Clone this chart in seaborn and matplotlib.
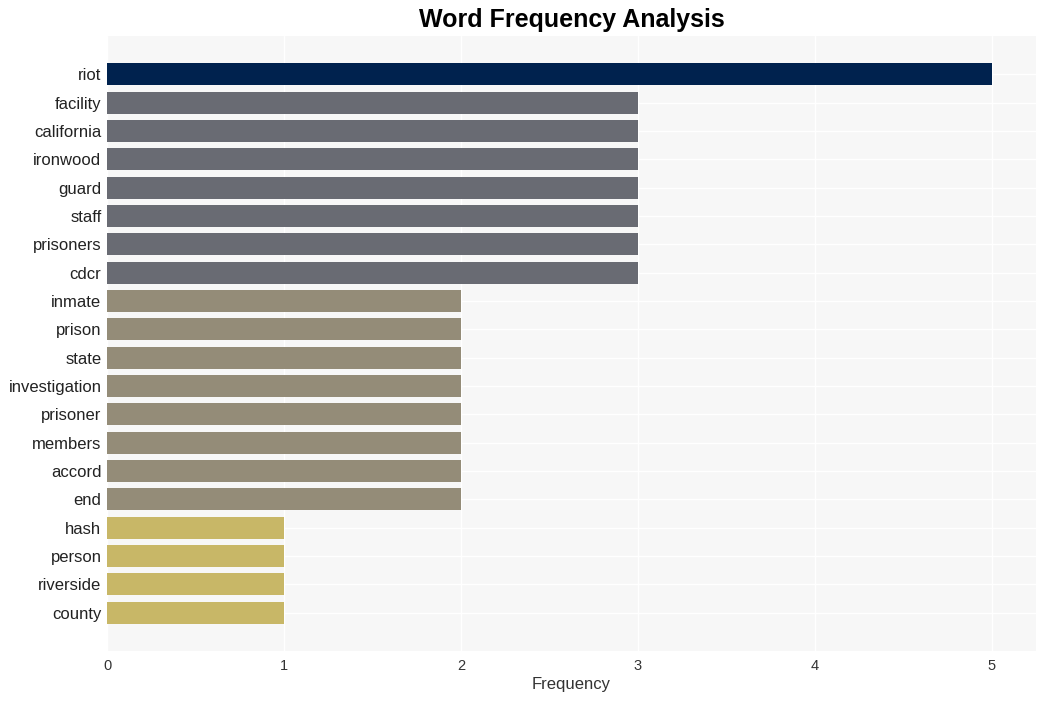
import matplotlib
matplotlib.use("Agg")
import matplotlib.pyplot as plt
import seaborn as sns
import pandas as pd

words = ["riot", "facility", "california", "ironwood", "guard", "staff", "prisoners", "cdcr",
         "inmate", "prison", "state", "investigation", "prisoner", "members", "accord", "end",
         "hash", "person", "riverside", "county"]
counts = [5, 3, 3, 3, 3, 3, 3, 3, 2, 2, 2, 2, 2, 2, 2, 2, 1, 1, 1, 1]
color_map = {5: "#00224e", 3: "#696b73", 2: "#948c78", 1: "#c8b767"}

df = pd.DataFrame({"word": words, "count": counts})

sns.set_theme(style="whitegrid")
plt.rcParams["font.family"] = ["Liberation Sans", "DejaVu Sans"]

fig = plt.figure(figsize=(10.47, 7.01), dpi=100)
ax = fig.add_axes([107 / 1047, 1 - 651 / 701, (1036 - 107) / 1047, (651 - 36) / 701])
ax.set_facecolor("#f7f7f7")

sns.barplot(data=df, x="count", y="word", hue="word",
            palette=[color_map[c] for c in counts], legend=False,
            width=0.78, ax=ax, saturation=1, linewidth=0)

ax.set_xlim(0, 5.25)
ax.set_ylim(len(words) - 1 + 1.35, -1.35)
ax.grid(True, axis="both", color="white", linewidth=1)
for s in ax.spines.values():
    s.set_visible(False)
ax.tick_params(axis="y", labelsize=12, length=0, pad=4, labelcolor="#222222")
ax.tick_params(axis="x", labelsize=10.5, length=0, pad=6, labelcolor="#333333")
ax.set_ylabel("")
ax.set_xlabel("Frequency", fontsize=12, color="#333333", labelpad=3)
fig.suptitle("Word Frequency Analysis", fontsize=18, fontweight="bold", y=0.988, x=0.546,
             color="black")

fig.savefig("out.png", dpi=100)
